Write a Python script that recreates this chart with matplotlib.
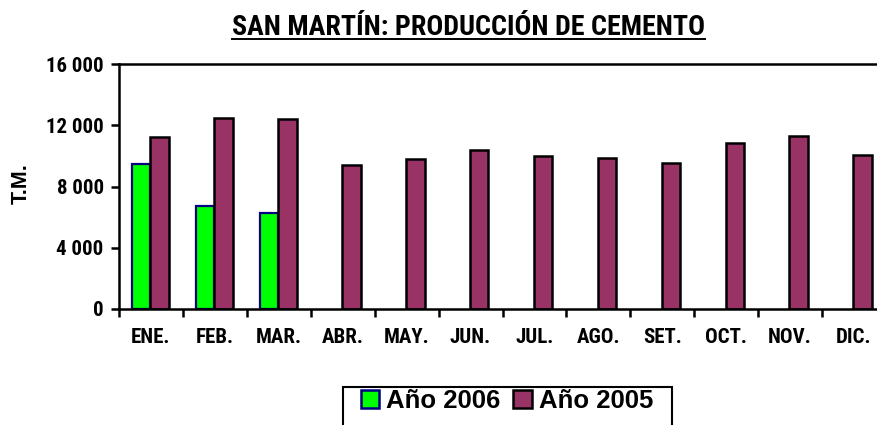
import matplotlib
matplotlib.use("Agg")
import matplotlib.pyplot as plt
from matplotlib.patches import Patch, Rectangle
from matplotlib.lines import Line2D
from matplotlib.ticker import FuncFormatter

# data
meses = ["ENE.", "FEB.", "MAR.", "ABR.", "MAY.", "JUN.", "JUL.", "AGO.", "SET.", "OCT.", "NOV.", "DIC."]
anio_2006 = [9470, 6730, 6280]
anio_2005 = [11230, 12470, 12430, 9400, 9800, 10380, 9990, 9840, 9510, 10820, 11280, 10040]
y_ticks = [0, 4000, 8000, 12000, 16000]

narrow = ["Liberation Sans Narrow", "Roboto Condensed", "DejaVu Sans Condensed", "DejaVu Sans"]
arial = ["Liberation Sans", "DejaVu Sans"]

fig = plt.figure(figsize=(8.77, 4.25), dpi=100)
W, H = 877, 425
ax = fig.add_axes([119 / W, (H - 309) / H, 767 / W, 245 / H])

w = 0.29
x0 = [i + 0.2 for i in range(len(anio_2006))]
x1 = [i + 0.2 + w for i in range(len(anio_2005))]
ax.bar(x0, anio_2006, width=w, align="edge", color="#00ff00", edgecolor="#000080", linewidth=1.6)
ax.bar(x1, anio_2005, width=w, align="edge", color="#993366", edgecolor="black", linewidth=1.8)

ax.set_xlim(0, 12)
ax.set_ylim(0, 16000)
ax.set_yticks(y_ticks)
ax.yaxis.set_major_formatter(FuncFormatter(lambda v, p: f"{int(v):,}".replace(",", " ")))
ax.set_xticks(range(13))
ax.set_xticklabels([])
ax.set_xticks([i + 0.5 for i in range(12)], minor=True)
ax.set_xticklabels(meses, minor=True, fontsize=15, fontweight="bold", family=narrow)
ax.tick_params(axis="x", which="minor", length=0, pad=14)
ax.tick_params(axis="x", which="major", length=5.5, width=1.8, direction="out")
ax.tick_params(axis="y", length=6, width=1.8, direction="out", pad=5)
for lab in ax.get_yticklabels():
    lab.set_fontsize(15)
    lab.set_fontweight("bold")
    lab.set_family(narrow)

for s in ["left", "bottom", "top"]:
    ax.spines[s].set_linewidth(1.8)
ax.spines["right"].set_visible(False)

fig.text(21 / W, 1 - 184 / H, "T.M.", rotation=90, ha="center", va="center",
         fontsize=15.5, fontweight="bold", family=arial)

title = fig.text(468 / W, 1 - 35 / H, "SAN MARTÍN: PRODUCCIÓN DE CEMENTO", ha="center", va="baseline",
                 fontsize=20.2, fontweight="bold", family=narrow)
fig.canvas.draw()
bb = title.get_window_extent().transformed(fig.transFigure.inverted())
fig.add_artist(Line2D([bb.x0, bb.x1], [1 - 38.5 / H] * 2, color="black", linewidth=1.4))

handles = [Patch(facecolor="#00ff00", edgecolor="#000080", linewidth=1.8, label="Año 2006"),
           Patch(facecolor="#993366", edgecolor="black", linewidth=1.8, label="Año 2005")]
leg = fig.legend(handles=handles, loc="center", bbox_to_anchor=(507 / W, 1 - 401 / H), ncol=2,
                 frameon=False, handlelength=0.72, handleheight=0.7,
                 handletextpad=0.28, columnspacing=0.5, borderpad=0.0,
                 prop={"family": arial, "weight": "bold", "size": 18.5})
fig.add_artist(Rectangle((343 / W, 1 - 440 / H), 329 / W, 53 / H, transform=fig.transFigure,
                         facecolor="none", edgecolor="black", linewidth=1.5))

fig.savefig("out.png", dpi=100)
